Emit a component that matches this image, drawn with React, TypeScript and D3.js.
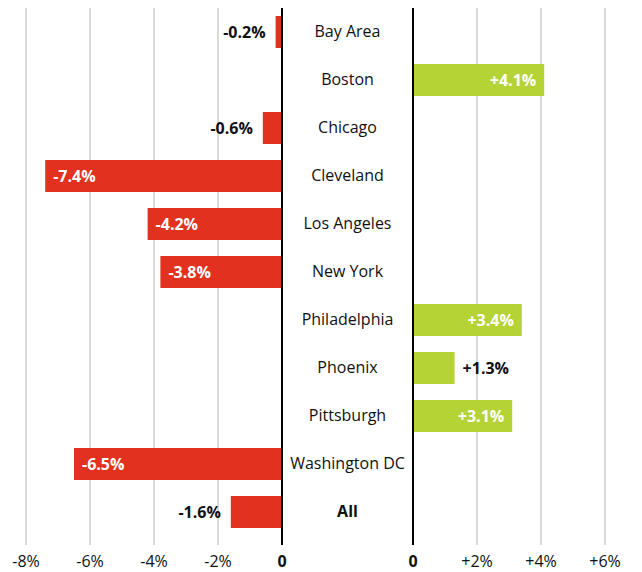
import React from "react";
import * as d3 from "d3";

const cities = [
  "Bay Area",
  "Boston",
  "Chicago",
  "Cleveland",
  "Los Angeles",
  "New York",
  "Philadelphia",
  "Phoenix",
  "Pittsburgh",
  "Washington DC",
  "All",
];
const changes = [-0.2, 4.1, -0.6, -7.4, -4.2, -3.8, 3.4, 1.3, 3.1, -6.5, -1.6];
const leftTicks = [-8, -6, -4, -2];
const rightTicks = [2, 4, 6];

const RED = "#e2311f";
const GREEN = "#b5d334";
const FONT = "'Open Sans', sans-serif";

const fmt = (v: number) => (v > 0 ? "+" : "") + v.toFixed(1) + "%";

export default function App() {
  const width = 642;
  const height = 572;
  const top = 8;
  const bottom = 545;

  const y = d3.scaleBand<string>().domain(cities).range([8, 536]).paddingInner(1 / 3).paddingOuter(1 / 6);
  const xl = d3.scaleLinear().domain([-8, 0]).range([26, 282]);
  const xr = d3.scaleLinear().domain([0, 6]).range([413, 605]);
  const mid = (xl(0) + xr(0)) / 2;

  return (
    <svg width={width} height={height} style={{ position: "absolute", left: 0, top: 0 }} fontFamily={FONT}>
      {leftTicks.map((t) => (
        <g key={"l" + t}>
          <line x1={xl(t)} x2={xl(t)} y1={top} y2={bottom} stroke="#b4b4b4" strokeWidth={1} />
          <text x={xl(t)} y={567} textAnchor="middle" fontSize={16} fill="#111">
            {t}%
          </text>
        </g>
      ))}
      {rightTicks.map((t) => (
        <g key={"r" + t}>
          <line x1={xr(t)} x2={xr(t)} y1={top} y2={bottom} stroke="#b4b4b4" strokeWidth={1} />
          <text x={xr(t)} y={567} textAnchor="middle" fontSize={16} fill="#111">
            +{t}%
          </text>
        </g>
      ))}
      {cities.map((c, i) => {
        const v = changes[i];
        const yy = y(c)!;
        const bh = y.bandwidth();
        const cy = yy + bh / 2;
        const inside = Math.abs(v) >= 2;
        if (v < 0) {
          const x0 = xl(v);
          return (
            <g key={c}>
              <rect x={x0} y={yy} width={xl(0) - x0} height={bh} fill={RED} />
              <text
                x={inside ? x0 + 8 : x0 - 10}
                y={cy}
                dy="0.35em"
                textAnchor={inside ? "start" : "end"}
                fontSize={16}
                fontWeight="bold"
                fill={inside ? "#fff" : "#111"}
              >
                {fmt(v)}
              </text>
            </g>
          );
        }
        const x1 = xr(v);
        return (
          <g key={c}>
            <rect x={xr(0)} y={yy} width={x1 - xr(0)} height={bh} fill={GREEN} />
            <text
              x={inside ? x1 - 8 : x1 + 8}
              y={cy}
              dy="0.35em"
              textAnchor={inside ? "end" : "start"}
              fontSize={16}
              fontWeight="bold"
              fill={inside ? "#fff" : "#111"}
            >
              {fmt(v)}
            </text>
          </g>
        );
      })}
      {cities.map((c) => (
        <text
          key={"c" + c}
          x={mid}
          y={y(c)! + y.bandwidth() / 2 - 1}
          dy="0.35em"
          textAnchor="middle"
          fontSize={16}
          fontWeight={c === "All" ? "bold" : "normal"}
          fill="#111"
        >
          {c}
        </text>
      ))}
      <line x1={xl(0)} x2={xl(0)} y1={top} y2={bottom} stroke="#000" strokeWidth={2} />
      <line x1={xr(0)} x2={xr(0)} y1={top} y2={bottom} stroke="#000" strokeWidth={2} />
      <text x={xl(0)} y={567} textAnchor="middle" fontSize={16} fontWeight="bold" fill="#111">
        0
      </text>
      <text x={xr(0)} y={567} textAnchor="middle" fontSize={16} fontWeight="bold" fill="#111">
        0
      </text>
    </svg>
  );
}
